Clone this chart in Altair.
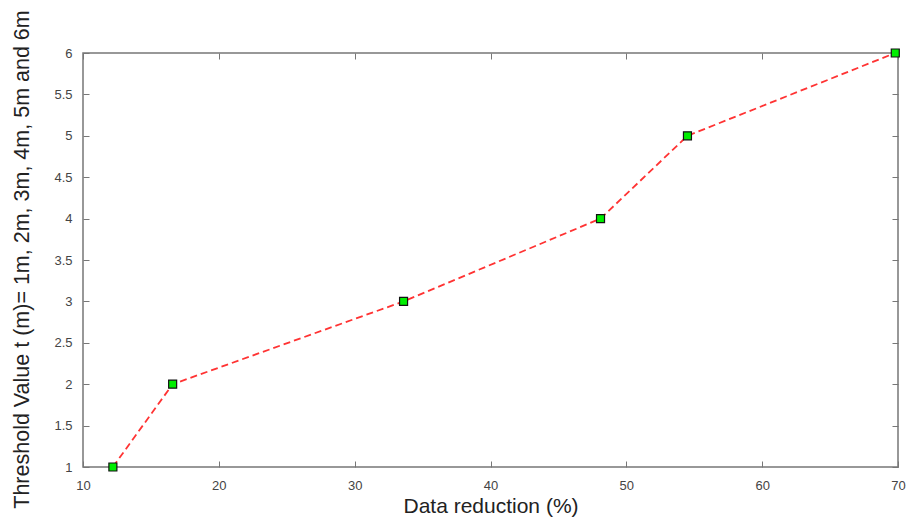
import altair as alt
import pandas as pd

data_reduction = [12.2, 16.6, 33.6, 48.1, 54.5, 69.8]
threshold = [1, 2, 3, 4, 5, 6]
x_ticks = [10, 20, 30, 40, 50, 60, 70]
y_ticks = [1, 1.5, 2, 2.5, 3, 3.5, 4, 4.5, 5, 5.5, 6]

df = pd.DataFrame({"x": data_reduction, "y": threshold})

FONT = "Liberation Sans"
TICK = 6

xs = alt.Scale(domain=[10, 70], nice=False, zero=False)
ys = alt.Scale(domain=[1, 6], nice=False, zero=False)

x_bottom = alt.X("x:Q", scale=xs, title="Data reduction (%)",
                 axis=alt.Axis(orient="bottom", values=x_ticks, format="d", offset=-TICK,
                               tickSize=TICK, domain=False, grid=False, labelPadding=12,
                               labelFlush=False, titlePadding=3, labelFontSize=13,
                               titleFontSize=21, labelColor="#444", titleColor="#222",
                               tickColor="#777", labelFont=FONT, titleFont=FONT,
                               titleFontWeight="normal"))
y_left = alt.Y("y:Q", scale=ys, title="Threshold Value t (m)= 1m, 2m, 3m, 4m, 5m and 6m",
               axis=alt.Axis(orient="left", values=y_ticks, format=".1~f", offset=-TICK,
                             tickSize=TICK, domain=False, grid=False, labelPadding=11,
                             labelFlush=False, titlePadding=20, titleY=206,
                             labelFontSize=13, titleFontSize=21.5,
                             labelColor="#444", titleColor="#222", tickColor="#777",
                             labelFont=FONT, titleFont=FONT, titleFontWeight="normal"))

x_top = alt.X("x:Q", scale=xs, title=None,
              axis=alt.Axis(orient="top", values=x_ticks, labels=False, offset=-TICK,
                            tickSize=TICK, domain=False, grid=False, tickColor="#777"))
y_right = alt.Y("y:Q", scale=ys, title=None,
                axis=alt.Axis(orient="right", values=y_ticks, labels=False, offset=-TICK,
                              tickSize=TICK, domain=False, grid=False, tickColor="#777"))

line = alt.Chart(df).mark_line(color="#ff3333", strokeDash=[7, 4], strokeWidth=1.8).encode(
    x=x_bottom, y=y_left)
points = alt.Chart(df).mark_point(shape="square", filled=True, fill="#00ee00",
                                  stroke="#111", strokeWidth=1.2, size=64, opacity=1).encode(
    x=x_top, y=y_right)

chart = alt.layer(line, points).resolve_axis(x="independent", y="independent").properties(
    width=815, height=414,
    autosize=alt.AutoSizeParams(type="none"),
    padding={"left": 75, "top": 45, "right": 10, "bottom": 52},
    background="white",
).configure_view(stroke="#777", strokeWidth=1.5)

chart.save("out.html", embed_options={"renderer": "svg", "actions": False})
